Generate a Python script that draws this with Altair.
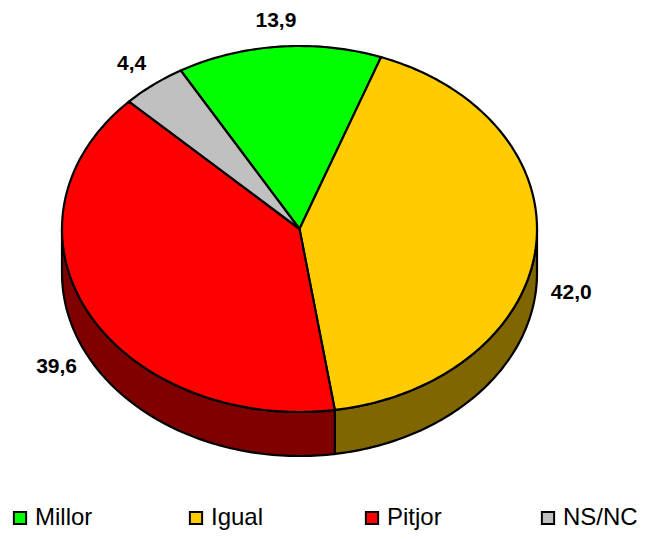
import math
import altair as alt
import pandas as pd

categories = ["Millor", "Igual", "Pitjor", "NS/NC"]
values = [13.9, 42.0, 39.6, 4.4]
value_labels = ["13,9", "42,0", "39,6", "4,4"]
top_colors = ["#00ff00", "#ffcc00", "#ff0000", "#c0c0c0"]
wall_colors = {"Igual": "#806600", "Pitjor": "#800000"}

START = -30.0
CX, CY, RX, RY, DEPTH = 299.5, 229.0, 237.5, 183.0, 44.0


def pt(deg, dy=0.0):
    a = math.radians(deg)
    return CX + RX * math.sin(a), CY - RY * math.cos(a) + dy


total = sum(values)
rows, walls, labels = [], [], []
ang = START
for cat, val, lab in zip(categories, values, value_labels):
    span = val / total * 360
    a0, a1 = ang, ang + span
    n = max(int(span), 2)
    seq = [a0 + (a1 - a0) * i / n for i in range(n + 1)]
    pts = [(CX, CY)] + [pt(a) for a in seq] + [(CX, CY)]
    for i, (x, y) in enumerate(pts):
        rows.append({"cat": cat, "i": i, "x": x, "y": y})
    # visible side wall: the part of the rim that faces the viewer
    w0, w1 = max(a0, 90.0), min(a1, 270.0)
    if w1 > w0:
        m = max(int(w1 - w0), 2)
        s = [w0 + (w1 - w0) * i / m for i in range(m + 1)]
        wp = [pt(a) for a in s] + [pt(a, DEPTH) for a in reversed(s)]
        wp.append(wp[0])
        for i, (x, y) in enumerate(wp):
            walls.append({"cat": cat + " wall", "i": i, "x": x, "y": y})
    mid = (a0 + a1) / 2
    lx = CX + RX * 1.15 * math.sin(math.radians(mid))
    ly = CY - RY * 1.14 * math.cos(math.radians(mid))
    if 90 < mid < 270:
        ly += DEPTH - 1
    labels.append({"x": lx, "y": ly, "t": lab})
    ang = a1

x_s = alt.Scale(domain=[8, 638], range=[0, 630], nice=False, zero=False)
y_s = alt.Scale(domain=[8, 531], range=[0, 523], nice=False, zero=False)
X = alt.X("x:Q", scale=x_s, axis=None)
Y = alt.Y("y:Q", scale=y_s, axis=None)

wall_layer = alt.Chart(pd.DataFrame(walls)).mark_line(
    stroke="black", strokeWidth=2.2, interpolate="linear-closed"
).encode(
    x=X, y=Y, order="i:Q",
    fill=alt.Fill("cat:N", legend=None, scale=alt.Scale(
        domain=[k + " wall" for k in wall_colors], range=list(wall_colors.values()))),
)

top_layer = alt.Chart(pd.DataFrame(rows)).mark_line(
    stroke="black", strokeWidth=2.2, interpolate="linear-closed"
).encode(
    x=X, y=Y, order="i:Q",
    fill=alt.Fill("cat:N", scale=alt.Scale(domain=categories, range=top_colors),
                  legend=alt.Legend(
                      title=None, orient="none", legendX=0, legendY=498, columns=4,
                      columnPadding=74, gridAlign="all", symbolType="square", symbolSize=150,
                      symbolStrokeColor="black", symbolStrokeWidth=2, labelFontSize=24,
                      labelFont="Liberation Sans", labelColor="black", labelOffset=3,
                      labelLimit=200, symbolOpacity=1)),
)

label_layer = alt.Chart(pd.DataFrame(labels)).mark_text(
    font="Liberation Sans", fontWeight="bold", fontSize=21, color="black"
).encode(x=X, y=Y, text="t:N")

chart = alt.layer(wall_layer, top_layer, label_layer).resolve_scale(fill="independent").properties(
    width=630, height=523, padding=0, autosize=alt.AutoSizeParams(type="none")
).configure_view(stroke=None)

chart.save("out.html", embed_options={"renderer": "svg", "actions": False})
